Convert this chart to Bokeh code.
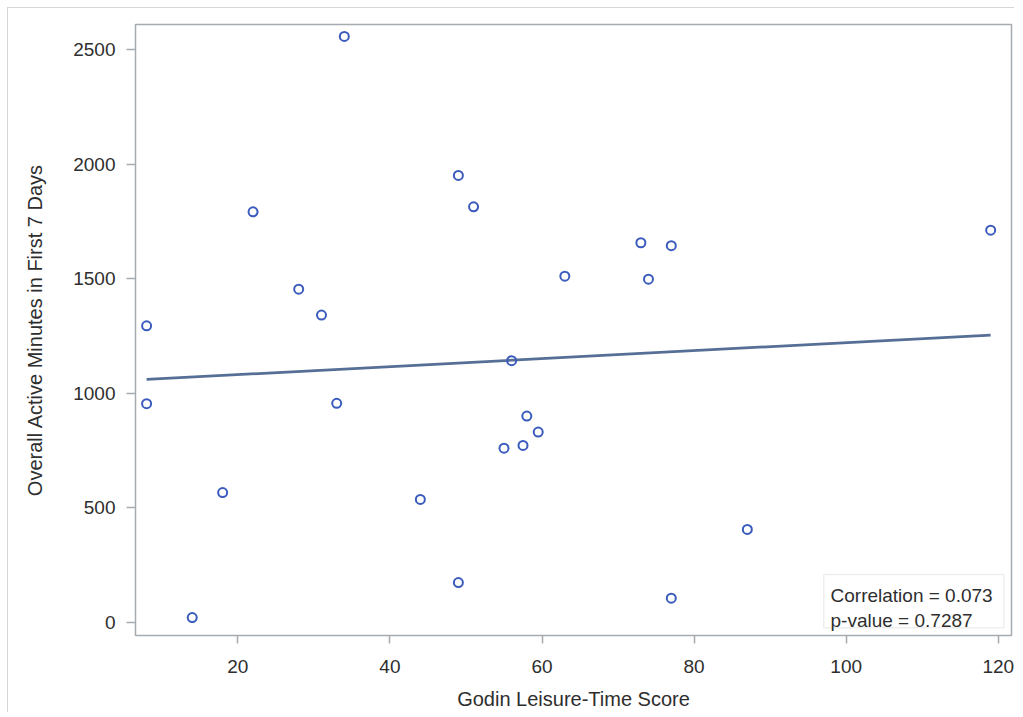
from bokeh.plotting import figure
from bokeh.models import Range1d, FixedTicker, BoxAnnotation, Label
from bokeh.embed import file_html
from bokeh.resources import INLINE

# ---- data ----
godin = [8, 8, 14, 18, 22, 28, 31, 33, 34, 44, 49, 49, 51, 55, 56, 57.5, 58, 59.5,
         63, 73, 74, 77, 77, 87, 119]
minutes = [1294, 954, 20, 566, 1792, 1454, 1341, 956, 2558, 536, 1951, 173, 1814,
           760, 1142, 772, 900, 830, 1511, 1657, 1498, 1644, 105, 405, 1712]
fit_x = [8, 119]
fit_y = [1060, 1254]
x_ticks = [20, 40, 60, 80, 100, 120]
y_ticks = [0, 500, 1000, 1500, 2000, 2500]
stats_lines = ["Correlation = 0.073", "p-value = 0.7287"]
x_title = "Godin Leisure-Time Score"
y_title = "Overall Active Minutes in First 7 Days"

FONT = "Liberation Sans"
TXT = "#2e2e2e"
FRAME = "#a6abb0"

p = figure(width=1007, height=705, output_backend="svg", toolbar_location=None,
           x_range=Range1d(6.54, 121.74), y_range=Range1d(-58.1, 2610),
           min_border_left=127, min_border_right=4, min_border_top=16,
           min_border_bottom=78)
p.styles = {"border-top": "1px solid #d6d6d6", "border-left": "1px solid #d6d6d6",
            "margin-top": "7px", "margin-left": "7px"}
p.grid.visible = False
p.outline_line_color = FRAME
p.outline_line_width = 1.5
p.background_fill_color = "white"
p.border_fill_color = "white"

for ax, ticks in ((p.xaxis[0], x_ticks), (p.yaxis[0], y_ticks)):
    ax.ticker = FixedTicker(ticks=ticks)
    ax.axis_line_color = None
    ax.major_tick_line_color = FRAME
    ax.major_tick_line_width = 1.5
    ax.major_tick_in = 0
    ax.minor_tick_line_color = None
    ax.major_label_text_font = FONT
    ax.major_label_text_font_size = "19px"
    ax.major_label_text_color = TXT
    ax.axis_label_text_font = FONT
    ax.axis_label_text_font_size = "20px"
    ax.axis_label_text_font_style = "normal"
    ax.axis_label_text_color = TXT

p.xaxis[0].axis_label = x_title
p.xaxis[0].major_tick_out = 8
p.xaxis[0].major_label_standoff = 16
p.xaxis[0].axis_label_standoff = 12
p.yaxis[0].axis_label = y_title
p.yaxis[0].major_tick_out = 9
p.yaxis[0].major_label_standoff = 11
p.yaxis[0].axis_label_standoff = 24

p.line(fit_x, fit_y, line_color="#566f96", line_width=2.8)
p.scatter(godin, minutes, marker="circle", size=9, fill_color=None,
          line_color="#3b5cbd", line_width=2)

box = BoxAnnotation(left=97.05, right=120.73, bottom=-24.5, top=208.3,
                    fill_color="white", fill_alpha=1.0,
                    line_color="#c8c8c8", line_width=1.5)
p.add_layout(box)
for txt, yb in zip(stats_lines, [116.6, 7.4]):
    p.add_layout(Label(x=97.94, y=yb, text=txt, text_font=FONT,
                       text_font_size="19px", text_color=TXT,
                       text_baseline="alphabetic", text_align="left"))

open("out.html", "w").write(file_html(p, INLINE))
